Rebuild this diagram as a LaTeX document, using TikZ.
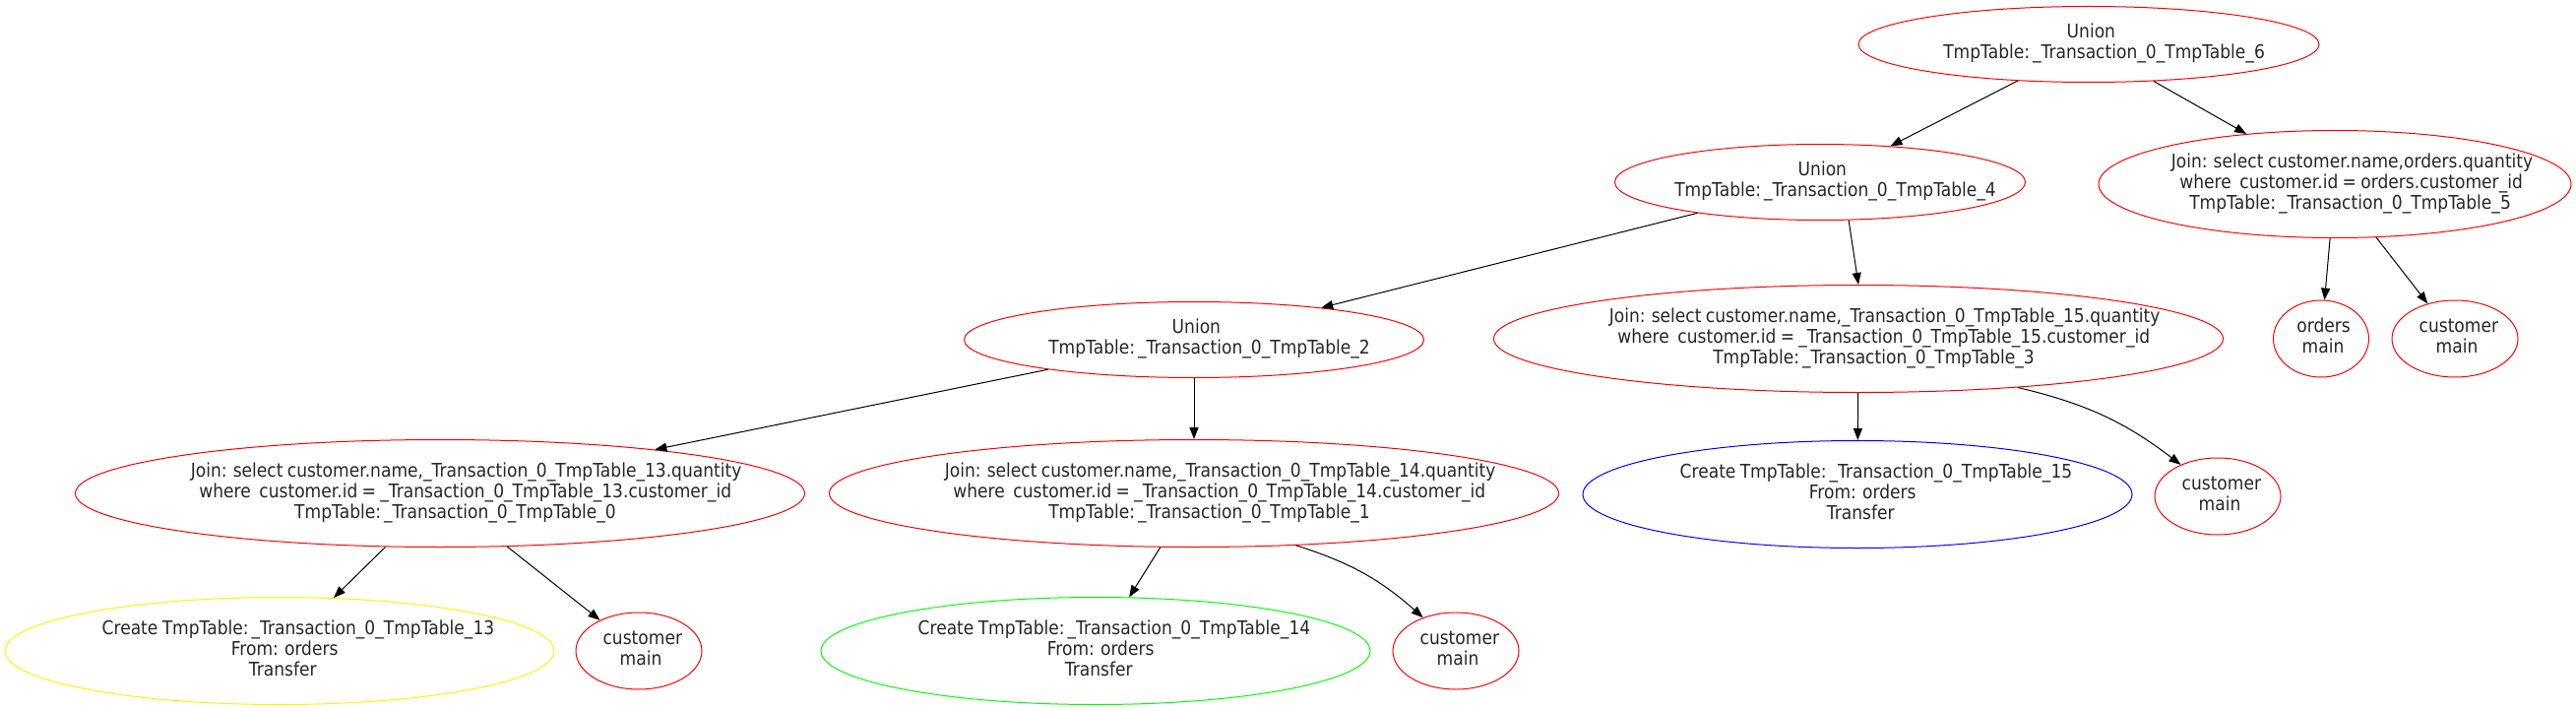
\documentclass[tikz,border=0pt]{standalone}
\usepackage{fontspec}
\setmainfont{DejaVu Sans}[FakeStretch=0.89, WordSpace=0.8]
\usetikzlibrary{shapes.geometric,arrows.meta}
\newcommand{\lbl}[1]{\makebox[0pt]{\begin{tabular}{@{}c@{}}#1\end{tabular}}}
\newcommand{\gl}[1]{\sbox0{#1}\hspace*{0.095\wd0}\usebox0}
\begin{document}
\begin{tikzpicture}[x=1pt,y=-1pt,
  every node/.style={font=\fontsize{19.2}{21}\selectfont, text=black!85},
  ov/.style={ellipse, inner sep=0pt, line width=1pt},
  two/.style={ov, minimum height=77pt},
  three/.style={ov, minimum height=109pt},
  circ/.style={ov, draw=red, minimum height=78pt, minimum width=128pt},
  arr/.style={-{Triangle[length=12pt,width=9pt]}, line width=1pt}]
\useasboundingbox (0,0) rectangle (2617,722);
% level 0
\node[two, draw=red, minimum width=468pt] (A) at (2122,45) {\lbl{\gl{Union}\\\gl{TmpTable:\hspace{0.15em}\_Transaction\_0\_TmpTable\_6}}};
% level 1
\node[two, draw=red, minimum width=417pt] (B) at (1849,185) {\lbl{\gl{Union}\\\gl{TmpTable:\hspace{0.15em}\_Transaction\_0\_TmpTable\_4}}};
\node[three, draw=red, minimum width=480pt] (C) at (2372,187) {\lbl{\gl{Join: select customer.name,orders.quantity}\\\gl{where~ customer.id = orders.customer\_id}\\\gl{TmpTable:\hspace{0.15em}\_Transaction\_0\_TmpTable\_5}}};
% level 2
\node[circ, minimum width=97pt] (D) at (2358,344) {\lbl{\gl{orders}\\\gl{main}}};
\node[circ] (E) at (2494,344) {\lbl{\gl{customer}\\\gl{main}}};
\node[two, draw=red, minimum width=467pt] (F) at (1213,345) {\lbl{\gl{Union}\\\gl{TmpTable:\hspace{0.15em}\_Transaction\_0\_TmpTable\_2}}};
\node[three, draw=red, minimum width=741pt] (G) at (1888,344) {\lbl{\gl{Join: select customer.name,\_Transaction\_0\_TmpTable\_15.quantity}\\\gl{where~ customer.id = \_Transaction\_0\_TmpTable\_15.customer\_id}\\\gl{TmpTable:\hspace{0.15em}\_Transaction\_0\_TmpTable\_3}}};
% level 3
\node[three, draw=red, minimum width=741pt] (H) at (447,501) {\lbl{\gl{Join: select customer.name,\_Transaction\_0\_TmpTable\_13.quantity}\\\gl{where~ customer.id = \_Transaction\_0\_TmpTable\_13.customer\_id}\\\gl{TmpTable:\hspace{0.15em}\_Transaction\_0\_TmpTable\_0}}};
\node[three, draw=red, minimum width=741pt] (I) at (1213,501) {\lbl{\gl{Join: select customer.name,\_Transaction\_0\_TmpTable\_14.quantity}\\\gl{where~ customer.id = \_Transaction\_0\_TmpTable\_14.customer\_id}\\\gl{TmpTable:\hspace{0.15em}\_Transaction\_0\_TmpTable\_1}}};
\node[three, draw=blue, minimum width=558pt] (J) at (1887,502) {\lbl{\gl{Create TmpTable:\hspace{0.15em}\_Transaction\_0\_TmpTable\_15}\\\gl{From: orders}\\\gl{Transfer}}};
\node[circ] (K) at (2253,504) {\lbl{\gl{customer}\\\gl{main}}};
% level 4
\node[three, draw=yellow, minimum width=558pt] (L) at (284,661) {\lbl{\gl{Create TmpTable:\hspace{0.15em}\_Transaction\_0\_TmpTable\_13}\\\gl{From: orders}\\\gl{Transfer}}};
\node[circ] (M) at (649,661) {\lbl{\gl{customer}\\\gl{main}}};
\node[three, draw=green, minimum width=558pt] (N) at (1113,661) {\lbl{\gl{Create TmpTable:\hspace{0.15em}\_Transaction\_0\_TmpTable\_14}\\\gl{From: orders}\\\gl{Transfer}}};
\node[circ] (O) at (1479,661) {\lbl{\gl{customer}\\\gl{main}}};
% edges
\draw[arr] (A) -- (B);
\draw[arr] (A) -- (C);
\draw[arr] (B) -- (F);
\draw[arr] (B.-53) -- (G.north);
\draw[arr] (C) -- (D);
\draw[arr] (C) -- (E);
\draw[arr] (F) -- (H);
\draw[arr] (F) -- (I);
\draw[arr] (G) -- (J);
\draw[arr] (G.-17) to[bend left=12] (K);
\draw[arr] (H) -- (L);
\draw[arr] (H) -- (M);
\draw[arr] (I) -- (N);
\draw[arr] (I.-27) to[bend left=12] (O);
\end{tikzpicture}
\end{document}
